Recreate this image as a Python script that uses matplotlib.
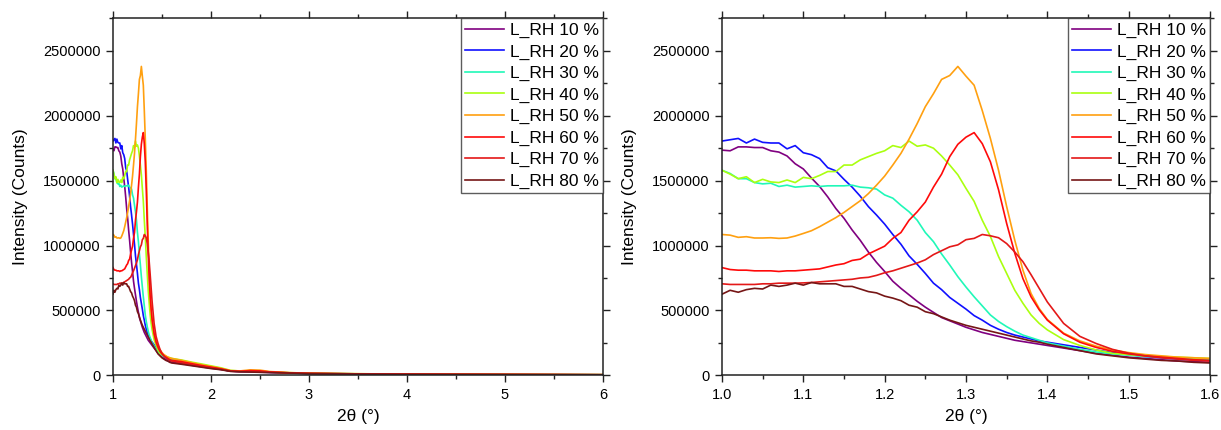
#!/usr/bin/env python3

import matplotlib
matplotlib.use("Agg")
import matplotlib.pyplot as plt
from matplotlib.ticker import MultipleLocator, FormatStrFormatter

plt.rcParams["font.family"] = ["Liberation Sans", "DejaVu Sans"]

# 2theta grid (deg): fine around the peak, coarse for the tail
two_theta = [
    1.00, 1.01, 1.02, 1.03, 1.04, 1.05, 1.06, 1.07, 1.08, 1.09,
    1.10, 1.11, 1.12, 1.13, 1.14, 1.15, 1.16, 1.17, 1.18, 1.19,
    1.20, 1.21, 1.22, 1.23, 1.24, 1.25, 1.26, 1.27, 1.28, 1.29,
    1.30, 1.31, 1.32, 1.33, 1.34, 1.35, 1.36, 1.37, 1.38, 1.39, 1.40,
    1.42, 1.44, 1.46, 1.48, 1.50, 1.52, 1.54, 1.56, 1.58, 1.60,
    1.7, 1.8, 1.9, 2.0, 2.1, 2.2, 2.3, 2.4, 2.5, 2.6, 2.8, 3.0,
    3.5, 4.0, 4.5, 5.0, 5.5, 6.0,
]

labels = ["L_RH 10 %", "L_RH 20 %", "L_RH 30 %", "L_RH 40 %",
          "L_RH 50 %", "L_RH 60 %", "L_RH 70 %", "L_RH 80 %"]
colors = ["#800080", "#1010ff", "#20f8b8", "#aaff10",
          "#ffa010", "#ff0a0a", "#e41818", "#761616"]

rh10 = [1735000, 1730000, 1760000, 1760000, 1755000, 1755000, 1730000, 1720000, 1690000, 1630000,
        1590000, 1520000, 1455000, 1375000, 1285000, 1210000, 1120000, 1040000, 950000, 870000,
        800000, 725000, 670000, 620000, 570000, 525000, 485000, 445000, 420000, 395000,
        370000, 350000, 330000, 315000, 300000, 285000, 270000, 260000, 250000, 240000, 230000,
        210000, 190000, 170000, 155000, 140000, 130000, 120000, 110000, 105000, 100000,
        90000, 78000, 66000, 55000, 45000, 32000, 28000, 26000, 24000, 22000, 18000, 14000,
        10000, 8000, 7000, 6000, 5000, 4000]
rh20 = [1805000, 1815000, 1825000, 1790000, 1820000, 1795000, 1790000, 1790000, 1745000, 1770000,
        1715000, 1700000, 1670000, 1600000, 1575000, 1510000, 1450000, 1380000, 1300000, 1235000,
        1165000, 1085000, 1010000, 920000, 855000, 785000, 710000, 660000, 600000, 555000,
        510000, 460000, 425000, 385000, 355000, 330000, 310000, 295000, 280000, 265000, 255000,
        235000, 215000, 195000, 175000, 160000, 145000, 135000, 125000, 120000, 115000,
        100000, 85000, 72000, 60000, 48000, 33000, 29000, 28000, 26000, 23000, 19000, 15000,
        11000, 9000, 7500, 6500, 5500, 4500]
rh30 = [1580000, 1555000, 1515000, 1515000, 1485000, 1475000, 1480000, 1455000, 1465000, 1450000,
        1455000, 1460000, 1455000, 1460000, 1460000, 1460000, 1465000, 1450000, 1445000, 1435000,
        1390000, 1365000, 1310000, 1260000, 1195000, 1100000, 1030000, 935000, 850000, 760000,
        680000, 605000, 535000, 465000, 415000, 375000, 340000, 310000, 290000, 270000, 250000,
        225000, 200000, 180000, 165000, 155000, 145000, 140000, 130000, 125000, 120000,
        105000, 90000, 76000, 63000, 50000, 34000, 30000, 30000, 28000, 24000, 19000, 15000,
        11000, 9000, 7500, 6500, 5500, 4500]
rh40 = [1580000, 1550000, 1515000, 1530000, 1485000, 1510000, 1490000, 1485000, 1505000, 1485000,
        1525000, 1515000, 1540000, 1570000, 1570000, 1620000, 1620000, 1660000, 1685000, 1710000,
        1730000, 1770000, 1755000, 1805000, 1765000, 1775000, 1750000, 1690000, 1620000, 1545000,
        1440000, 1340000, 1195000, 1070000, 915000, 785000, 655000, 555000, 465000, 400000, 350000,
        275000, 230000, 195000, 170000, 160000, 150000, 145000, 140000, 135000, 130000,
        118000, 102000, 88000, 73000, 58000, 38000, 33000, 35000, 33000, 26000, 20000, 16000,
        12000, 9500, 8000, 7000, 6000, 5000]
rh50 = [1085000, 1080000, 1063000, 1068000, 1058000, 1058000, 1060000, 1055000, 1058000, 1073000,
        1093000, 1114000, 1145000, 1180000, 1215000, 1255000, 1300000, 1345000, 1400000, 1465000,
        1535000, 1620000, 1710000, 1820000, 1940000, 2070000, 2170000, 2280000, 2310000, 2380000,
        2305000, 2235000, 2040000, 1825000, 1580000, 1300000, 1040000, 810000, 630000, 515000, 430000,
        325000, 265000, 225000, 195000, 175000, 160000, 150000, 140000, 135000, 130000,
        115000, 98000, 82000, 68000, 54000, 36000, 34000, 42000, 40000, 29000, 21000, 16000,
        12000, 9500, 8000, 7000, 6000, 5000]
rh60 = [830000, 815000, 810000, 810000, 805000, 805000, 805000, 800000, 805000, 805000,
        810000, 815000, 820000, 835000, 850000, 860000, 885000, 895000, 935000, 965000,
        995000, 1055000, 1100000, 1195000, 1260000, 1335000, 1450000, 1550000, 1685000, 1780000,
        1835000, 1870000, 1785000, 1645000, 1430000, 1170000, 940000, 745000, 605000, 505000, 425000,
        320000, 255000, 215000, 185000, 165000, 150000, 140000, 130000, 120000, 115000,
        105000, 90000, 76000, 63000, 50000, 34000, 31000, 36000, 34000, 26000, 19000, 15000,
        11000, 9000, 7500, 6500, 5500, 4500]
rh70 = [705000, 700000, 700000, 700000, 700000, 705000, 705000, 710000, 710000, 710000,
        712000, 715000, 720000, 725000, 730000, 735000, 740000, 750000, 755000, 770000,
        790000, 805000, 825000, 845000, 865000, 890000, 930000, 960000, 990000, 1005000,
        1045000, 1055000, 1085000, 1075000, 1060000, 1015000, 950000, 875000, 775000, 670000, 565000,
        400000, 300000, 245000, 200000, 170000, 150000, 135000, 125000, 115000, 110000,
        95000, 82000, 70000, 58000, 47000, 32000, 29000, 30000, 28000, 24000, 18000, 14000,
        10500, 8500, 7000, 6000, 5000, 4000]
rh80 = [625000, 655000, 640000, 660000, 670000, 665000, 695000, 685000, 695000, 710000,
        695000, 715000, 705000, 705000, 705000, 685000, 685000, 665000, 645000, 635000,
        610000, 595000, 575000, 540000, 525000, 490000, 475000, 450000, 425000, 405000,
        385000, 370000, 355000, 340000, 325000, 310000, 295000, 280000, 265000, 255000, 240000,
        215000, 190000, 165000, 150000, 135000, 125000, 115000, 110000, 100000, 95000,
        85000, 74000, 63000, 52000, 43000, 30000, 27000, 25000, 23000, 21000, 17000, 13000,
        9500, 7500, 6500, 5500, 4500, 3500]

series = [rh10, rh20, rh30, rh40, rh50, rh60, rh70, rh80]


def style_axis(ax, xmajor, xminor, fmt):
    ax.set_ylim(0, 2750000)
    ax.xaxis.set_major_locator(MultipleLocator(xmajor))
    ax.xaxis.set_minor_locator(MultipleLocator(xminor))
    ax.xaxis.set_major_formatter(FormatStrFormatter(fmt))
    ax.yaxis.set_major_locator(MultipleLocator(500000))
    ax.yaxis.set_minor_locator(MultipleLocator(250000))
    ax.yaxis.set_major_formatter(FormatStrFormatter("%d"))
    ax.tick_params(which="both", direction="out", top=True, right=True,
                   labelsize=10.5, color="#222222", width=1.0)
    ax.tick_params(which="major", length=5, pad=4)
    ax.tick_params(which="minor", length=3)
    for s in ax.spines.values():
        s.set_linewidth(1.1)
        s.set_color("#222222")
    ax.set_xlabel("2\u03b8 (\u00b0)", fontsize=12.5, labelpad=5)
    ax.set_ylabel("Intensity (Counts)", fontsize=12.5, labelpad=11)
    leg = ax.legend(loc="upper right", fontsize=12.5, frameon=True, fancybox=False,
                    borderaxespad=0, borderpad=0.25, labelspacing=0.36,
                    handlelength=2.2, handletextpad=0.35)
    leg.get_frame().set_edgecolor("#333333")
    leg.get_frame().set_linewidth(1.0)


fig = plt.figure(figsize=(12.21, 4.30), dpi=100)
ax1 = fig.add_axes([0.0925, 0.1272, 0.4013, 0.830])
ax2 = fig.add_axes([0.5913, 0.1272, 0.3997, 0.830])

for ax in (ax1, ax2):
    for ys, lab, c in zip(series, labels, colors):
        ax.plot(two_theta, ys, color=c, lw=1.2, label=lab)

ax1.set_xlim(1, 6)
style_axis(ax1, 1, 0.5, "%d")
ax2.set_xlim(1.0, 1.6)
style_axis(ax2, 0.1, 0.05, "%.1f")

plt.savefig("out.png", dpi=100)
